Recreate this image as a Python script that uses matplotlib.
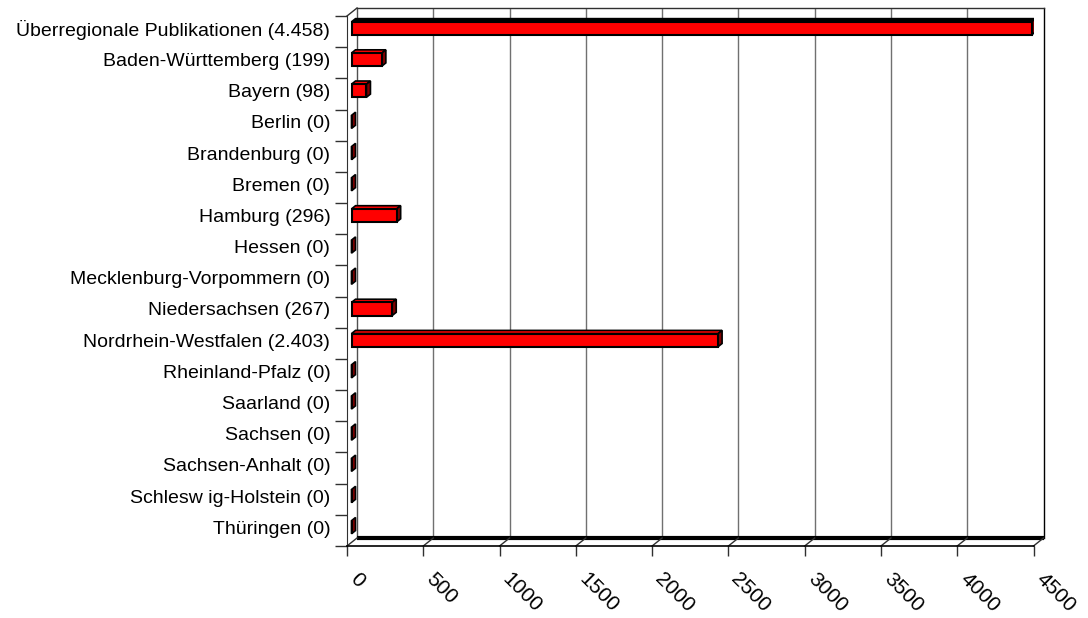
import matplotlib.pyplot as plt
from matplotlib.patches import Polygon
from matplotlib.transforms import ScaledTranslation
import numpy as np

plt.rcParams['font.family'] = ['Liberation Sans', 'DejaVu Sans']

categories = [
    "Überregionale Publikationen (4.458)",
    "Baden-Württemberg (199)",
    "Bayern (98)",
    "Berlin (0)",
    "Brandenburg (0)",
    "Bremen (0)",
    "Hamburg (296)",
    "Hessen (0)",
    "Mecklenburg-Vorpommern (0)",
    "Niedersachsen (267)",
    "Nordrhein-Westfalen (2.403)",
    "Rheinland-Pfalz (0)",
    "Saarland (0)",
    "Sachsen (0)",
    "Sachsen-Anhalt (0)",
    "Schlesw ig-Holstein (0)",
    "Thüringen (0)",
]
values = [4458, 199, 98, 0, 0, 0, 296, 0, 0, 267, 2403, 0, 0, 0, 0, 0, 0]
x_ticks = [0, 500, 1000, 1500, 2000, 2500, 3000, 3500, 4000, 4500]

W, H = 1088, 618
fig = plt.figure(figsize=(W / 100, H / 100), dpi=100)
# front plane of the 3d box in pixels
left_px, right_px, top_px, bot_px = 347, 1033.5, 16, 546
ax = fig.add_axes([left_px / W, 1 - bot_px / H, (right_px - left_px) / W, (bot_px - top_px) / H])

n = len(categories)
xmax = 4500
ax.set_xlim(0, xmax)
ax.set_ylim(-0.5, n - 0.5)

# depth of the box in data units (10 px right, 8 px up)
px_x = xmax / (right_px - left_px)
px_y = n / (bot_px - top_px)
dx, dy = 10 * px_x, 8 * px_y

ypos = np.arange(n)[::-1]

# back wall
ax.vlines([t + dx for t in x_ticks[1:-1]], -0.5 + dy, n - 0.5 + dy, color='#707070', lw=1, clip_on=False, zorder=1)
ax.plot([dx, dx], [-0.5 + dy, n - 0.5 + dy], color='#505050', lw=1, clip_on=False, zorder=1)
ax.plot([xmax + dx, xmax + dx], [-0.5 + dy, n - 0.5 + dy], color='black', lw=1, clip_on=False, zorder=1)
ax.plot([dx, xmax + dx], [n - 0.5 + dy, n - 0.5 + dy], color='#303030', lw=1, clip_on=False, zorder=1)
ax.plot([0, dx], [n - 0.5, n - 0.5 + dy], color='#303030', lw=1, clip_on=False, zorder=1)
# floor
ax.plot([dx, xmax + dx], [-0.5 + dy, -0.5 + dy], color='black', lw=3, clip_on=False, zorder=2, solid_capstyle='butt')
for t in x_ticks:
    ax.plot([t, t + dx], [-0.5, -0.5 + dy], color='#303030', lw=1, clip_on=False, zorder=2)

# bars
h = 0.42
fx, fy = 0.45 * dx, 0.4 * dy
bx, by = 0.85 * dx, 0.8 * dy
ax.barh(ypos + fy, values, left=fx, height=h, color='#ff0000', edgecolor='black', lw=1.5, zorder=4)
for i, (y, v) in enumerate(zip(ypos, values)):
    top = y + fy + h / 2
    bot = y + fy - h / 2
    top_face = [(fx, top), (v + fx, top), (v + bx, top + by - fy), (bx, top + by - fy)]
    side_face = [(v + fx, bot), (v + fx, top), (v + bx, top + by - fy), (v + bx, bot + by - fy)]
    if v > 0:
        top_col = 'black' if v == max(values) else '#ff0000'
        ax.add_patch(Polygon(top_face, closed=True, facecolor=top_col, edgecolor='black', lw=1.2, zorder=3))
    ax.add_patch(Polygon(side_face, closed=True, facecolor='#800000', edgecolor='black', lw=1.2, zorder=3))

# axes styling
for s in ['top', 'right']:
    ax.spines[s].set_visible(False)
ax.spines['left'].set_color('#303030')
ax.spines['bottom'].set_color('black')
ax.spines['bottom'].set_linewidth(1.2)

ax.set_xticks(x_ticks)
ax.set_xticklabels([str(t) for t in x_ticks], rotation=-45, ha='left', va='center',
                   rotation_mode='anchor', fontsize=15)
ax.tick_params(axis='x', length=7.5, width=1, color='#303030', pad=14)
shift = ScaledTranslation(0.06, 0, fig.dpi_scale_trans)
for lab in ax.get_xticklabels():
    lab.set_transform(lab.get_transform() + shift)

ax.set_yticks(ypos + fy)
ax.set_yticklabels(categories, fontsize=14)
ax.tick_params(axis='y', which='major', length=0, pad=12)
ax.set_yticks(np.arange(-0.5, n, 1), minor=True)
ax.tick_params(axis='y', which='minor', length=9, width=1, color='#303030')

fig.savefig('out.png', dpi=100)
